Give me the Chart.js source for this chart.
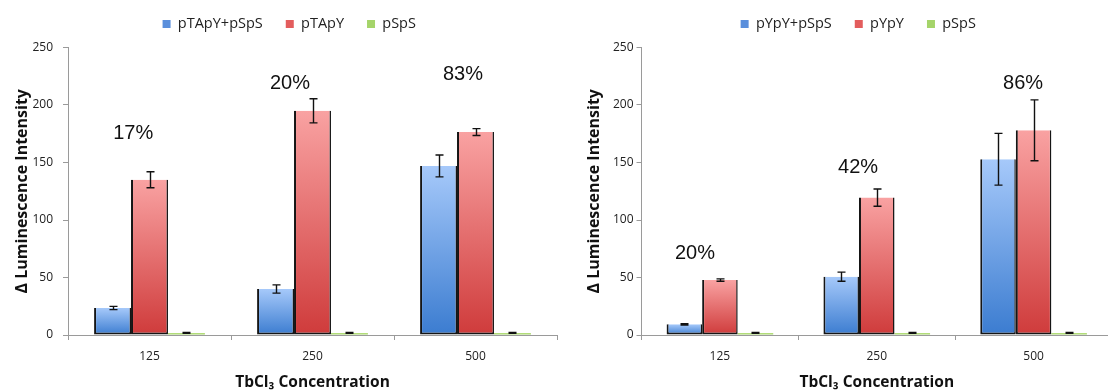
<!DOCTYPE html>
<html><head><meta charset="utf-8">
<script src="https://cdn.jsdelivr.net/npm/chart.js@4.4.1/dist/chart.umd.min.js"></script>
<style>
html,body{margin:0;padding:0;background:#fff;overflow:hidden;width:1108px;height:391px;position:relative;}
#wrapL{position:absolute;left:0;top:0;}
#wrapR{position:absolute;left:580px;top:0;}
canvas{display:block;}
</style></head><body>
<div id="wrapL"><canvas id="cL" width="578" height="391"></canvas></div>
<div id="wrapR"><canvas id="cR" width="560" height="391"></canvas></div>
<script>
// ---------- data ----------
const categories = ['125', '250', '500'];
const yTickValues = [0, 50, 100, 150, 200, 250];
const xTitle = 'TbCl₃ Concentration';
const yTitle = 'Δ Luminescence Intensity';

// left panel
const leftSeriesNames = ['pTApY+pSpS', 'pTApY', 'pSpS'];
const leftMix = [23.5, 40, 147];
const leftMixErr = [1.4, 3.6, 9.5];
const leftPTApY = [135, 195, 176.5];
const leftPTApYErr = [7, 10.5, 3];
const leftPSpS = [1.8, 1.8, 1.8];
const leftPSpSErr = [0.4, 0.4, 0.4];
const leftPctText = ['17%', '20%', '83%'];
const leftPctValue = [175.6, 218.3, 226.5];
const leftPctShift = [-0.10, -0.138, -0.077];

// right panel
const rightSeriesNames = ['pYpY+pSpS', 'pYpY', 'pSpS'];
const rightMix = [9.3, 50.7, 152.8];
const rightMixErr = [0.6, 4, 22.5];
const rightPYpY = [47.8, 119.5, 178];
const rightPYpYErr = [1, 7.5, 26.5];
const rightPSpS = [1.8, 1.8, 1.8];
const rightPSpSErr = [0.4, 0.4, 0.4];
const rightPctText = ['20%', '42%', '86%'];
const rightPctValue = [70.7, 146, 219];
const rightPctShift = [-0.159, -0.119, -0.067];

// ---------- style ----------
const FONT = 'Open Sans';
const SWATCH = ['#5a8fdc', '#e35d5d', '#a5d46a'];
const GRAD = [['#a6c9fa', '#3b7cd0'], ['#f9a2a2', '#cf3b3b'], ['#bde384', '#96cb5c']];
const AXIS_COLOR = '#9a9a9a';

function gradient(top, bottom) {
  return (c) => {
    const chart = c.chart;
    if (c.type !== 'data' || !chart.chartArea || !chart.scales.y) return bottom;
    const y = chart.scales.y;
    const y0 = y.getPixelForValue(c.raw);
    const y1 = y.getPixelForValue(0);
    if (!isFinite(y0) || !isFinite(y1) || y1 - y0 < 1) return top;
    const g = chart.ctx.createLinearGradient(0, y0, 0, y1);
    g.addColorStop(0, top);
    g.addColorStop(1, bottom);
    return g;
  };
}

const legendGap = {
  id: 'legendGap',
  beforeInit(chart, args, opts) {
    const size = opts.size || 0;
    Chart.layouts.addBox(chart, {
      position: 'top', weight: 100, fullSize: true, options: {},
      left: 0, top: 0, right: 0, bottom: 0, width: 0, height: 0,
      update(maxWidth) { this.width = maxWidth; this.height = size; return {width: maxWidth, height: size}; },
      isHorizontal() { return true; },
      getPadding() { return {left: 0, top: 0, right: 0, bottom: 0}; },
      draw() {}
    });
  }
};

const errorBars = {
  id: 'errorBars',
  afterDatasetsDraw(chart, args, opts) {
    const {ctx} = chart;
    const y = chart.scales.y;
    ctx.save();
    ctx.strokeStyle = opts.color;
    ctx.lineWidth = opts.width;
    chart.data.datasets.forEach((ds, i) => {
      const meta = chart.getDatasetMeta(i);
      meta.data.forEach((bar, j) => {
        const v = ds.data[j], e = ds.errors[j];
        const x = Math.round(bar.x) + 0.5;
        const yt = y.getPixelForValue(v + e);
        const yb = y.getPixelForValue(v - e);
        ctx.beginPath();
        ctx.moveTo(x, yt); ctx.lineTo(x, yb);
        ctx.moveTo(x - opts.cap, yt); ctx.lineTo(x + opts.cap, yt);
        ctx.moveTo(x - opts.cap, yb); ctx.lineTo(x + opts.cap, yb);
        ctx.stroke();
      });
    });
    ctx.restore();
  }
};

const pctLabels = {
  id: 'pctLabels',
  afterDatasetsDraw(chart, args, opts) {
    const {ctx} = chart;
    const x = chart.scales.x, y = chart.scales.y;
    const step = x.getPixelForValue(1) - x.getPixelForValue(0);
    ctx.save();
    ctx.font = opts.font;
    ctx.fillStyle = opts.color;
    ctx.textAlign = 'center';
    ctx.textBaseline = 'middle';
    opts.texts.forEach((t, i) => {
      ctx.fillText(t, x.getPixelForValue(i) + opts.shift[i] * step, y.getPixelForValue(opts.at[i]));
    });
    ctx.restore();
  }
};

function makeChart(id, p) {
  const series = [p.s0, p.s1, p.s2];
  const errs = [p.e0, p.e1, p.e2];
  const datasets = series.map((d, i) => ({
    label: p.names[i],
    data: d,
    errors: errs[i],
    backgroundColor: gradient(GRAD[i][0], GRAD[i][1]),
    borderColor: '#151515',
    borderWidth: i === 2 ? 0 : {left: 2, right: 1.5, top: 0, bottom: 2},
    borderSkipped: false,
    barPercentage: 1,
    categoryPercentage: 0.68
  }));
  return new Chart(document.getElementById(id), {
    type: 'bar',
    data: {labels: categories, datasets},
    plugins: [legendGap, errorBars, pctLabels],
    options: {
      responsive: false,
      animation: false,
      devicePixelRatio: 1,
      layout: {padding: {left: p.padL, right: p.padR, top: -6.25, bottom: 0}},
      plugins: {
        legendGap: {size: 6.25},
        errorBars: {color: '#111', width: 1.4, cap: 4},
        pctLabels: {texts: p.pct, at: p.pctAt, shift: p.pctShift, font: '20px "Liberation Sans"', color: '#111'},
        tooltip: {enabled: false},
        legend: {
          position: 'top',
          labels: {
            font: {family: FONT, size: 14.5},
            color: '#222',
            boxWidth: 8, boxHeight: 8, padding: 23,
            generateLabels(chart) {
              return chart.data.datasets.map((ds, i) => ({
                text: ds.label, fillStyle: SWATCH[i], strokeStyle: SWATCH[i],
                lineWidth: 0, hidden: false, datasetIndex: i, fontColor: '#222'
              }));
            }
          }
        }
      },
      scales: {
        x: {
          grid: {display: true, drawOnChartArea: false, drawTicks: true, tickLength: 5, color: AXIS_COLOR, offset: true},
          border: {display: true, color: AXIS_COLOR, width: 1},
          ticks: {font: {family: FONT, size: 12}, color: '#222', padding: 9},
          title: {display: true, text: xTitle, font: {family: FONT, size: 15.5, weight: 'bold'}, color: '#111', padding: {top: 0, bottom: -1}},
          afterFit(scale) { scale.height = 391 - 335; }
        },
        y: {
          min: 0, max: 250,
          afterBuildTicks(scale) { scale.ticks = yTickValues.map(v => ({value: v})); },
          grid: {display: true, drawOnChartArea: false, drawTicks: true, tickLength: 5, color: AXIS_COLOR},
          border: {display: true, color: AXIS_COLOR, width: 1},
          ticks: {font: {family: FONT, size: 12}, color: '#222', padding: p.tickPad},
          title: {display: true, text: yTitle, font: {family: FONT, size: 16, weight: 'bold'}, color: '#111', padding: {top: p.yTitlePad, bottom: 0}},
          afterFit(scale) { scale.width = p.yWidth; }
        }
      }
    }
  });
}

makeChart('cL', {
  names: leftSeriesNames,
  s0: leftMix, s1: leftPTApY, s2: leftPSpS,
  e0: leftMixErr, e1: leftPTApYErr, e2: leftPSpSErr,
  pct: leftPctText, pctAt: leftPctValue, pctShift: leftPctShift,
  padL: 21.5, padR: 21, yWidth: 68 - 21.5, tickPad: 10, yTitlePad: -9.1
});
makeChart('cR', {
  names: rightSeriesNames,
  s0: rightMix, s1: rightPYpY, s2: rightPSpS,
  e0: rightMixErr, e1: rightPYpYErr, e2: rightPSpSErr,
  pct: rightPctText, pctAt: rightPctValue, pctShift: rightPctShift,
  padL: 24.5, padR: 28, yWidth: 61.5 - 24.5, tickPad: 3, yTitlePad: -20
});
</script>
</body></html>
